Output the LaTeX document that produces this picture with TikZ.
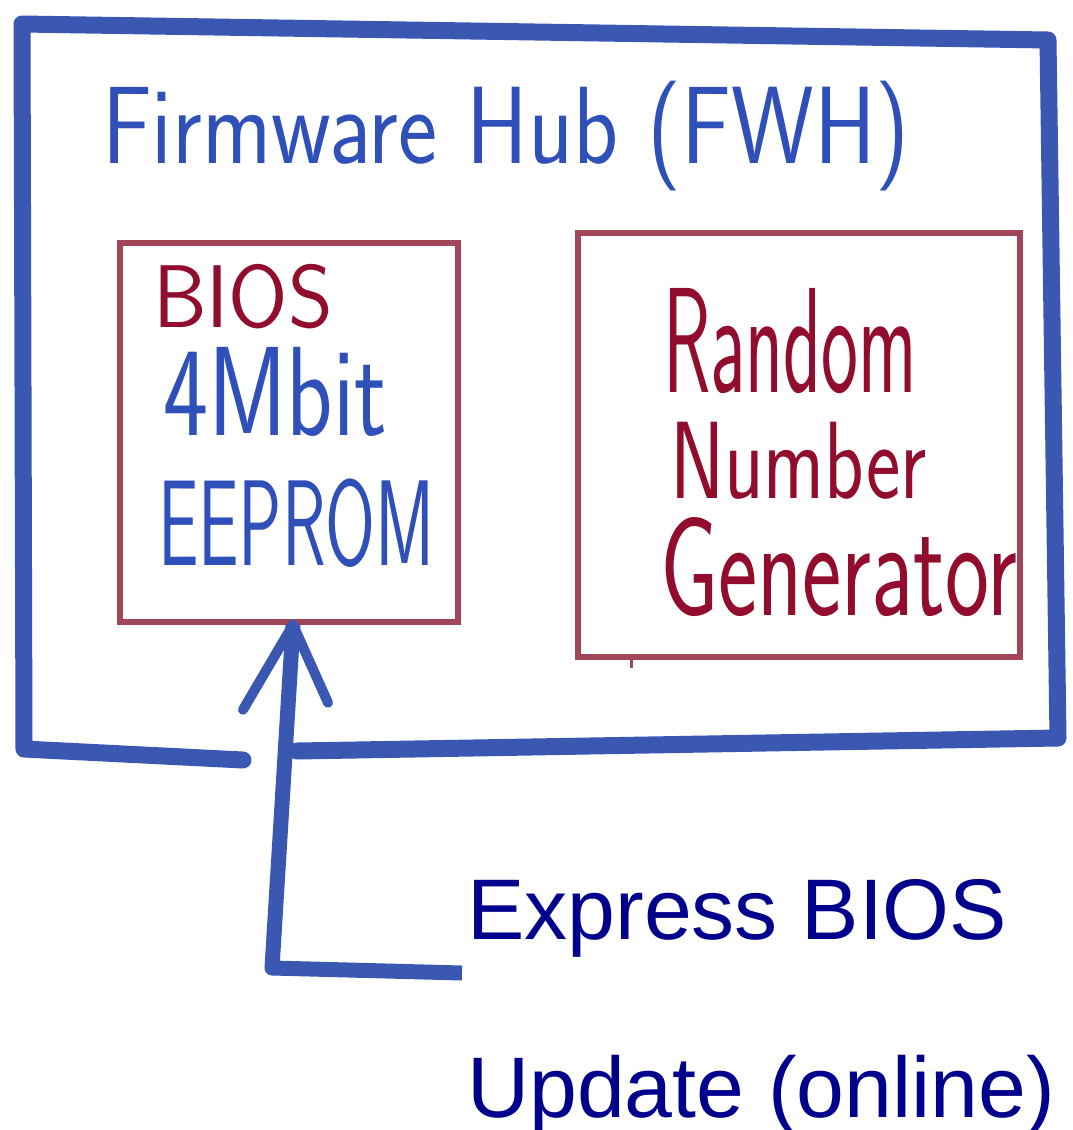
\documentclass[tikz,border=0pt]{standalone}
\usepackage{fontspec}
\usepackage{graphicx}
\newfontfamily\arialfont{Liberation Sans}
\definecolor{penblue}{RGB}{58,88,178}
\definecolor{inkblue}{RGB}{48,80,185}
\definecolor{boxred}{RGB}{160,70,88}
\definecolor{inkred}{RGB}{145,12,45}
\definecolor{navy}{RGB}{0,0,140}
\newcommand\handtext[3]{\resizebox{#1pt}{\height}{\fontsize{#2}{#2}\selectfont\sffamily #3}}
\tikzset{
  pen/.style={draw=penblue, line width=17pt, line cap=round, line join=round},
  redbox/.style={draw=boxred, line width=5.5pt, inner sep=0pt, fill=none},
  hand/.style={anchor=base west, inner sep=0pt, outer sep=0pt},
  typed/.style={anchor=base west, inner sep=0pt, text=navy, font=\arialfont\fontsize{86}{86}\selectfont}
}
\begin{document}
\begin{tikzpicture}[x=1pt,y=-1pt]
\useasboundingbox (0,0) rectangle (1072,1130);
% outer hand-drawn FWH box
\draw[pen] (243,760) -- (24,749) -- (22,24) -- (1048,40) -- (1058,738) -- (297,751);
% title
\node[hand, text=inkblue] (title) at (102,163) {\handtext{808}{110}{Firmware Hub (FWH)}};
% inner boxes
\node[redbox, minimum width=338pt, minimum height=379pt] (bios) at (289,432.5) {};
\node[redbox, minimum width=442pt, minimum height=424pt] (rng) at (799,445) {};
\draw[boxred, line width=3pt] ([xshift=-168pt]rng.south) -- ++(0,8);
% left box texts
\node[hand, text=inkred] (t1) at (153,327) {\handtext{180}{89}{BIOS}};
\node[hand, text=inkblue] (t2) at (163,435) {\handtext{224}{127}{4Mbit}};
\node[hand, text=inkblue] (t3) at (158,565) {\handtext{277}{122}{EEPROM}};
% right box texts
\node[hand, text=inkred] (r1) at (663,392) {\handtext{254}{150}{Random}};
\node[hand, text=inkred] (r2) at (670,498) {\handtext{257}{110}{Number}};
\node[hand, text=inkred] (r3) at (660,615) {\handtext{357}{141}{Generator}};
% arrow
\coordinate (src) at (462,973);
\coordinate (tip) at ([xshift=4pt]bios.south);
\draw[pen, line cap=butt, line width=15pt] (src) -- (272,968) -- (tip);
\draw[pen, line width=10pt] (tip) -- ++(-50,85);
\draw[pen, line width=10pt] (tip) -- ++(35,78);
% caption
\node[typed] (cap1) at (467,939) {Express BIOS};
\node[typed] (cap2) at (467,1117) {Update (online)};
\end{tikzpicture}
\end{document}
